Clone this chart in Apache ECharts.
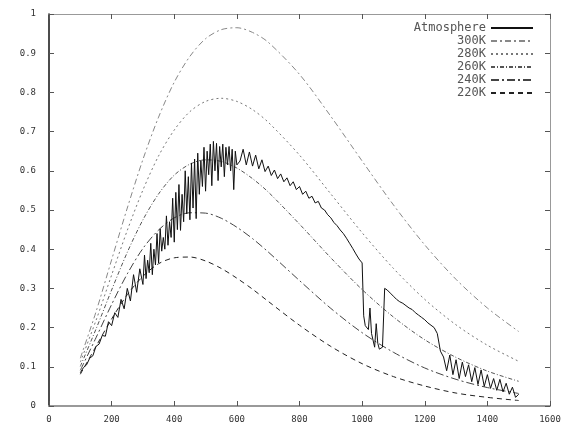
<!DOCTYPE html>
<html>
<head>
<meta charset="utf-8">
<script src="https://cdn.jsdelivr.net/npm/echarts@6/dist/echarts.min.js"></script>
<style>
  html, body { margin: 0; padding: 0; background: #fff; }
  #chart { width: 569px; height: 428px; }
</style>
</head>
<body>
<div id="chart"></div>
<script>
// blackbody curves
const planckNu = [100, 150, 200, 250, 300, 350, 400, 450, 500, 550, 600, 650, 700, 800, 900, 1000, 1100, 1200, 1300, 1400, 1500];
const k300 = [0.122, 0.240, 0.373, 0.505, 0.629, 0.737, 0.826, 0.892, 0.937, 0.960, 0.965, 0.953, 0.928, 0.846, 0.739, 0.625, 0.513, 0.411, 0.323, 0.250, 0.190];
const k280 = [0.112, 0.218, 0.334, 0.448, 0.551, 0.638, 0.704, 0.751, 0.777, 0.785, 0.777, 0.756, 0.724, 0.640, 0.541, 0.442, 0.351, 0.272, 0.207, 0.155, 0.114];
const k260 = [0.101, 0.196, 0.296, 0.392, 0.475, 0.541, 0.589, 0.617, 0.628, 0.624, 0.607, 0.580, 0.546, 0.464, 0.378, 0.297, 0.227, 0.169, 0.124, 0.089, 0.063];
const k240 = [0.091, 0.174, 0.259, 0.337, 0.402, 0.449, 0.480, 0.493, 0.492, 0.479, 0.456, 0.427, 0.393, 0.320, 0.249, 0.187, 0.137, 0.097, 0.068, 0.047, 0.032];
const k220 = [0.081, 0.152, 0.222, 0.284, 0.331, 0.363, 0.378, 0.380, 0.370, 0.351, 0.326, 0.298, 0.267, 0.206, 0.152, 0.108, 0.075, 0.051, 0.033, 0.022, 0.014];

// measured atmosphere spectrum
const atmNu = [
  100, 110, 120, 130, 140, 150, 160, 170, 180, 190, 200, 210, 220, 230, 240, 250, 260, 270, 280, 290,
  300, 305, 310, 315, 320, 325, 330, 335, 340, 345, 350, 355, 360, 365, 370, 375, 380, 385, 390, 395,
  400, 405, 410, 415, 420, 425, 430, 435, 440, 445, 450, 455, 460, 465, 470, 475, 480, 485, 490, 495,
  500, 505, 510, 515, 520, 525, 530, 535, 540, 545, 550, 555, 560, 565, 570, 575, 580, 585, 590, 595,
  600, 610, 620, 630, 640, 650, 660, 670, 680, 690, 700, 710, 720, 730, 740, 750, 760, 770, 780, 790,
  800, 810, 820, 830, 840, 850, 860, 870, 880, 890, 900, 910, 920, 930, 940, 950, 960, 970, 980, 990,
  1000, 1005, 1010, 1020, 1025, 1030, 1040, 1045, 1050, 1055, 1065, 1072, 1080, 1090, 1100, 1110, 1120, 1130, 1140, 1150,
  1160, 1170, 1180, 1190, 1200, 1210, 1220, 1230, 1240, 1250, 1260, 1270, 1280, 1290, 1300, 1310, 1320, 1330, 1340, 1350,
  1360, 1370, 1380, 1390, 1400, 1410, 1420, 1430, 1440, 1450, 1460, 1470, 1480, 1490, 1500
];
const atmRad = [
  0.085, 0.098, 0.105, 0.122, 0.128, 0.152, 0.158, 0.180, 0.178, 0.215, 0.205, 0.238, 0.226, 0.272, 0.248, 0.300, 0.268, 0.335, 0.290, 0.350,
  0.310, 0.385, 0.325, 0.372, 0.340, 0.415, 0.335, 0.400, 0.360, 0.440, 0.365, 0.452, 0.395, 0.430, 0.400, 0.485, 0.410, 0.470, 0.430, 0.530,
  0.418, 0.545, 0.450, 0.565, 0.448, 0.540, 0.470, 0.600, 0.490, 0.585, 0.475, 0.620, 0.505, 0.630, 0.478, 0.645, 0.540, 0.625, 0.560, 0.660,
  0.548, 0.650, 0.590, 0.668, 0.562, 0.675, 0.600, 0.670, 0.575, 0.662, 0.610, 0.668, 0.585, 0.660, 0.615, 0.662, 0.600, 0.655, 0.552, 0.650,
  0.615, 0.625, 0.655, 0.615, 0.648, 0.612, 0.640, 0.605, 0.628, 0.598, 0.612, 0.588, 0.602, 0.580, 0.592, 0.572, 0.582, 0.562, 0.572, 0.552,
  0.560, 0.540, 0.548, 0.530, 0.535, 0.518, 0.522, 0.505, 0.500, 0.488, 0.480, 0.468, 0.460, 0.449, 0.440, 0.428, 0.415, 0.402, 0.388, 0.375,
  0.365, 0.230, 0.205, 0.195, 0.250, 0.185, 0.150, 0.210, 0.160, 0.145, 0.150, 0.300, 0.296, 0.288, 0.280, 0.272, 0.266, 0.262, 0.256, 0.250,
  0.246, 0.238, 0.232, 0.226, 0.220, 0.212, 0.206, 0.200, 0.185, 0.140, 0.125, 0.090, 0.130, 0.080, 0.118, 0.070, 0.112, 0.075, 0.105, 0.062,
  0.098, 0.055, 0.092, 0.050, 0.080, 0.045, 0.070, 0.040, 0.068, 0.036, 0.058, 0.030, 0.048, 0.022, 0.030
];

const mono = 'DejaVu Sans Mono';
const pairs = (xs, ys) => xs.map((x, i) => [x, ys[i]]);

function planck(name, ys, color, dash) {
  return {
    name: name,
    type: 'line',
    symbol: 'none',
    smooth: 0.3,
    data: pairs(planckNu, ys),
    lineStyle: { color: color, width: 1, type: dash },
    itemStyle: { color: color },
  };
}

const axisCommon = {
  type: 'value',
  axisLine: { show: true, onZero: false, lineStyle: { color: '#999', width: 1 } },
  axisTick: { show: true, inside: true, length: 5, lineStyle: { color: '#555' } },
  splitLine: { show: false },
};

let option = {
  animation: false,
  backgroundColor: '#fff',
  grid: { left: 49, right: 19, top: 14, bottom: 22 },
  legend: {
    orient: 'vertical',
    right: 30,
    top: 17,
    align: 'right',
    itemWidth: 42,
    itemHeight: 8,
    itemGap: 1,
    itemStyle: { opacity: 0 },
    formatter: (n) => n.padStart(10, ' '),
    textStyle: { fontFamily: mono, fontSize: 12, color: '#555', lineHeight: 12 },
    data: ['Atmosphere', '300K', '280K', '260K', '240K', '220K'],
  },
  xAxis: [
    Object.assign({}, axisCommon, {
      min: 0, max: 1600, interval: 200,
      axisLine: { show: true, onZero: false, lineStyle: { color: '#999', width: 2 } },
      axisLabel: { fontFamily: mono, fontSize: 9, color: '#333', margin: 9, formatter: (v) => String(v) },
    }),
    Object.assign({}, axisCommon, {
      position: 'top',
      min: 0, max: 1600, interval: 200,
      axisLabel: { show: false },
    }),
  ],
  yAxis: [
    Object.assign({}, axisCommon, {
      min: 0, max: 1, interval: 0.1,
      axisLine: { show: true, onZero: false, lineStyle: { color: '#111', width: 1.5 } },
      axisLabel: {
        fontFamily: mono, fontSize: 9, color: '#333', margin: 13,
        formatter: (v) => (v === 0 ? '0' : v >= 1 ? '1' : v.toFixed(1)),
      },
    }),
    Object.assign({}, axisCommon, {
      position: 'right',
      min: 0, max: 1, interval: 0.1,
      axisLabel: { show: false },
    }),
  ],
  series: [
    {
      name: 'Atmosphere',
      type: 'line',
      symbol: 'none',
      data: pairs(atmNu, atmRad),
      lineStyle: { color: '#111', width: 1 },
      itemStyle: { color: '#111' },
      z: 5,
    },
    planck('300K', k300, '#888', [6, 3, 2, 3]),
    planck('280K', k280, '#777', [2, 3]),
    planck('260K', k260, '#555', [4, 2, 1, 2]),
    planck('240K', k240, '#444', [8, 3, 2, 3]),
    planck('220K', k220, '#222', [5, 4]),
  ],
};

let chartDom = document.getElementById('chart');
let myChart = echarts.init(chartDom);
myChart.setOption(option);
</script>
</body>
</html>
